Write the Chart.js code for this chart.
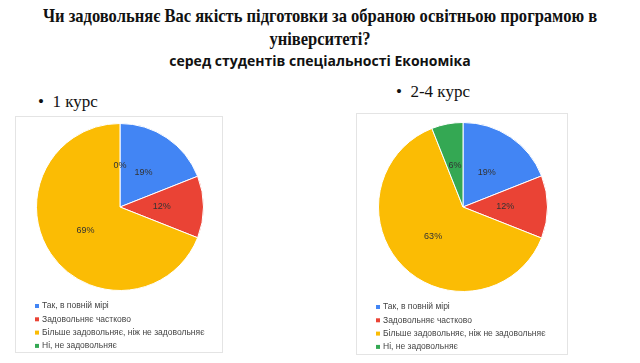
<!DOCTYPE html>
<html>
<head>
<meta charset="utf-8">
<script src="https://cdn.jsdelivr.net/npm/chart.js@4"></script>
<style>
body{margin:0;width:640px;height:363px;background:#fff;position:relative;overflow:hidden}
.t{position:absolute;left:0;width:640px;text-align:center;white-space:nowrap;color:#111}
#t1,#t2{font-family:"Liberation Serif",serif;font-weight:bold;font-size:19px}
#t1{top:5px;transform:scaleX(0.87)}
#t2{top:28px;transform:scaleX(0.87)}
#t3{top:51px;font-family:"Open Sans",sans-serif;font-weight:bold;font-size:14px}
.hd{position:absolute;font-family:"Liberation Serif",serif;font-size:17px;color:#111;white-space:nowrap}
.box{position:absolute;border:1px solid #e4e4e4;box-sizing:border-box}
.box canvas{position:absolute;left:0;top:0}
</style>
</head>
<body>
<div class="t" id="t1">Чи задовольняє Вас якість підготовки за обраною освітньою програмою в</div>
<div class="t" id="t2">університеті?</div>
<div class="t" id="t3">серед студентів спеціальності Економіка</div>

<div class="hd" style="left:38px;top:92px">•&nbsp;&nbsp;1 курс</div>
<div class="hd" style="left:396px;top:82px">•&nbsp;&nbsp;2-4 курс</div>

<div class="box" style="left:15px;top:116px;width:208px;height:237px"><canvas id="c1" width="208" height="237"></canvas></div>
<div class="box" style="left:356px;top:113px;width:212px;height:242px"><canvas id="c2" width="212" height="242"></canvas></div>

<script>
var labels=["Так, в повній мірі","Задовольняє частково","Більше задовольняє, ніж не задовольняє","Ні, не задовольняє"];
var course1=[19,12,69,0];
var course24=[19,12,63,6];
var colors=["#4285F4","#EA4335","#FBBC04","#34A853"];

// percent labels inside slices, google-sheets style
var sliceLabels={
  id:"sliceLabels",
  afterDatasetsDraw:function(chart){
    var ctx=chart.ctx;
    var arcs=chart.getDatasetMeta(0).data;
    var vals=chart.data.datasets[0].data;
    ctx.save();
    ctx.font="9px 'Liberation Sans'";
    ctx.fillStyle="#333";
    ctx.textAlign="center";
    ctx.textBaseline="middle";
    for(var i=0;i<arcs.length;i++){
      var a=arcs[i];
      var mid=(a.startAngle+a.endAngle)/2;
      var r=a.outerRadius*0.5;
      ctx.fillText(vals[i]+"%",a.x+Math.cos(mid)*r,a.y+Math.sin(mid)*r);
    }
    ctx.restore();
  }
};

// vertical legend under the pie
var listLegend={
  id:"listLegend",
  afterDraw:function(chart){
    var ctx=chart.ctx;
    var y0=chart.chartArea.bottom+15;
    var cols=chart.data.datasets[0].backgroundColor;
    ctx.save();
    ctx.font="8.5px 'Liberation Sans'";
    ctx.textBaseline="middle";
    for(var i=0;i<chart.data.labels.length;i++){
      var y=y0+i*13.3;
      ctx.fillStyle=cols[i];
      ctx.fillRect(19,y-2,4,4);
      ctx.fillStyle="#444";
      ctx.fillText(chart.data.labels[i],26,y);
    }
    ctx.restore();
  }
};

function makePie(id,values,pad){
  new Chart(id,{
    type:"pie",
    data:{
      labels:labels,
      datasets:[{data:values,backgroundColor:colors,borderColor:"#fff",borderWidth:1}]
    },
    options:{
      responsive:false,
      animation:false,
      layout:{padding:pad},
      plugins:{legend:{display:false},tooltip:{enabled:false}}
    },
    plugins:[sliceLabels,listLegend]
  });
}

makePie("c1",course1,{top:6,bottom:63,left:20,right:20});
makePie("c2",course24,{top:8,bottom:64,left:21,right:21});
</script>
</body>
</html>
